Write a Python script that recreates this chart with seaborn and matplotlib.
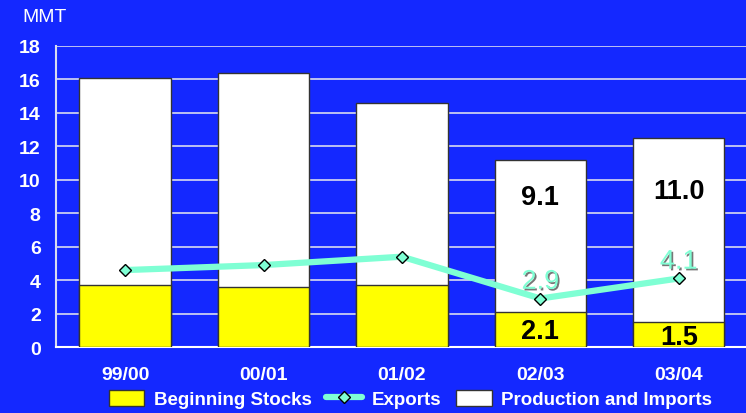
import matplotlib
matplotlib.use("Agg")
import matplotlib.pyplot as plt
import seaborn as sns
import pandas as pd
from matplotlib.patches import Patch
from matplotlib.lines import Line2D
import matplotlib.patheffects as pe

years = ["99/00", "00/01", "01/02", "02/03", "03/04"]
beginning_stocks = [3.7, 3.6, 3.7, 2.1, 1.5]
production_imports = [12.4, 12.8, 10.9, 9.1, 11.0]
exports = [4.6, 4.9, 5.4, 2.9, 4.1]
yticks = [0, 2, 4, 6, 8, 10, 12, 14, 16, 18]

BG = "#1428FF"
AQUA = "#7FFFD4"

sns.set_theme(style="white")
plt.rcParams["font.family"] = ["Liberation Sans", "DejaVu Sans"]

totals = [s + p for s, p in zip(beginning_stocks, production_imports)]
df = pd.DataFrame({"year": years, "stocks": beginning_stocks,
                   "total": totals, "exports": exports})

fig = plt.figure(figsize=(7.46, 4.14), dpi=100, facecolor=BG)
ax = fig.add_axes([0.075, 0.1594, 0.9277, 0.7271])
ax.set_facecolor(BG)

for y in yticks:
    ax.axhline(y, color="#D8DCF0", lw=1.2, zorder=0)

sns.barplot(data=df, x="year", y="total", color="white", width=0.66,
            edgecolor="#333333", linewidth=1, saturation=1, ax=ax, zorder=2)
sns.barplot(data=df, x="year", y="stocks", color="#FFFF00", width=0.66,
            edgecolor="#333333", linewidth=1, saturation=1, ax=ax, zorder=3)
sns.pointplot(data=df, x="year", y="exports", color=AQUA, markers="D",
              markersize=6, linewidth=4.5, markeredgecolor="black",
              markeredgewidth=1, ax=ax, zorder=5)

ax.set_xlim(-0.5, 4.5)
ax.set_ylim(0, 18)
ax.set_yticks(yticks)
ax.set_yticklabels([str(t) for t in yticks], color="white",
                   fontsize=14, fontweight="bold")
ax.set_xticks(range(len(years)))
ax.set_xticklabels(years, color="white", fontsize=14, fontweight="bold")
ax.tick_params(axis="y", length=0, pad=11)
ax.tick_params(axis="x", length=0, pad=14)
ax.set_xlabel("")
ax.set_ylabel("")
for s in ["top", "right"]:
    ax.spines[s].set_visible(False)
ax.spines["left"].set_color("#D8DCF0")
ax.spines["left"].set_linewidth(1.5)
ax.spines["bottom"].set_color("white")
ax.spines["bottom"].set_linewidth(1.5)

# value labels
for i in (3, 4):
    ax.text(i, beginning_stocks[i] + production_imports[i] / 2 + 2.3,
            f"{production_imports[i]:.1f}", ha="center", va="center",
            fontsize=19.5, fontweight="bold", color="black", zorder=6)
    ax.text(i, beginning_stocks[i] / 2 - (0.1 if i == 3 else 0.15),
            f"{beginning_stocks[i]:.1f}", ha="center", va="center",
            fontsize=19.5, fontweight="bold", color="black", zorder=6)
    ax.text(i, exports[i] + 1.0, f"{exports[i]:.1f}", ha="center",
            va="center", fontsize=19.5, color=AQUA, zorder=6,
            path_effects=[pe.withSimplePatchShadow(offset=(1.2, -1.2),
                                                   shadow_rgbFace="#555555",
                                                   alpha=0.8)])

fig.text(22 / 746, 1 - 18 / 414, "MMT", color="white", fontsize=14,
         ha="left", va="center")

handles = [
    Patch(facecolor="#FFFF00", edgecolor="#333333", label="Beginning Stocks"),
    Line2D([0], [0], color=AQUA, lw=4.5, marker="D", markersize=6,
           markerfacecolor=AQUA, markeredgecolor="black", label="Exports"),
    Patch(facecolor="white", edgecolor="#333333", label="Production and Imports"),
]
leg = fig.legend(handles=handles, loc="center", bbox_to_anchor=(0.55, 1 - 400 / 414),
                 ncol=3, frameon=False, fontsize=13.5, handlelength=1.9,
                 handleheight=1.0, columnspacing=0.8, handletextpad=0.5)
for t in leg.get_texts():
    t.set_color("white")
    t.set_fontweight("bold")

fig.savefig("out.png", dpi=100, facecolor=BG)
